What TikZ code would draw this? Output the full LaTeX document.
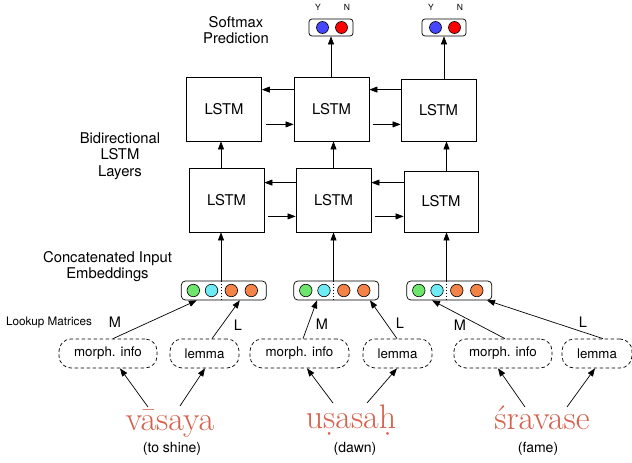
\documentclass[tikz,border=0pt]{standalone}
\usepackage{fontspec}
\setsansfont{TeX Gyre Heros}
\usetikzlibrary{arrows.meta,calc}
\definecolor{wordred}{RGB}{214,96,76}
\definecolor{cgreen}{RGB}{110,230,110}
\definecolor{ccyan}{RGB}{110,235,245}
\definecolor{corange}{RGB}{245,130,70}
\definecolor{cblue}{RGB}{70,70,255}
\definecolor{cred}{RGB}{255,0,0}
\begin{document}
\begin{tikzpicture}[x=1pt,y=-1pt,font=\sffamily,
  lstm/.style={draw,line width=0.8pt,minimum width=75pt,minimum height=64pt,inner sep=0pt,font=\sffamily\fontsize{14.8}{16}\selectfont},
  arr/.style={-{Triangle[length=8pt,width=6pt]},line width=0.7pt},
  emb/.style={draw,rounded corners=4pt,line width=0.7pt,minimum width=85pt,minimum height=19pt,inner sep=0pt},
  dotc/.style={circle,draw,line width=0.6pt,minimum size=12.5pt,inner sep=0pt},
  lookup/.style={draw,dash pattern=on 3.5pt off 2.5pt,rounded corners=12pt,line width=0.7pt,minimum height=29pt,inner sep=0pt,font=\sffamily\fontsize{13.3}{15}\selectfont},
  lbl/.style={font=\sffamily\fontsize{14.8}{16.5}\selectfont,align=center,inner sep=0pt},
  word/.style={font=\rmfamily\fontsize{34}{34}\selectfont,text=wordred,inner sep=0pt,anchor=base},
  gloss/.style={font=\sffamily\fontsize{14}{16}\selectfont,inner sep=0pt},
  ml/.style={font=\sffamily\fontsize{14.5}{16}\selectfont,inner sep=0pt},
  yn/.style={font=\sffamily\fontsize{8.5}{10}\selectfont,inner sep=0pt},
  soft/.style={draw,rounded corners=3pt,line width=0.7pt,minimum width=44pt,minimum height=17pt,inner sep=0pt}
]
\useasboundingbox (0,0) rectangle (632,463);

% column coordinates
\coordinate (c1) at (221,0);
\coordinate (c2) at (333.5,0);
\coordinate (c3) at (446.5,0);

% LSTM layers
\node[lstm] (t1) at (224,109) {LSTM};
\node[lstm] (t2) at (331.5,109) {LSTM};
\node[lstm,minimum height=62pt] (t3) at (438.5,110) {LSTM};
\node[lstm] (b1) at (226.5,200) {LSTM};
\node[lstm] (b2) at (333.5,200) {LSTM};
\node[lstm,minimum width=74pt,minimum height=61pt] (b3) at (441,201.5) {LSTM};

% horizontal recurrent arrows
\draw[arr] ($(t2.north west)+(0,13)$) -- ($(t1.north east)+(0,13)$);
\draw[arr] ($(t1.south east)+(4,-17)$) -- ($(t2.south west)+(0,-17)$);
\draw[arr] ($(t3.west |- t2.north)+(0,13)$) -- ($(t2.north east)+(0,13)$);
\draw[arr] ($(t2.south east)+(4,-17)$) -- ($(t3.west |- t2.south)+(0,-17)$);
\draw[arr] ($(b2.north west)+(0,15)$) -- ($(b1.north east)+(0,15)$);
\draw[arr] ($(b1.south east)+(4,-16)$) -- ($(b2.south west)+(0,-16)$);
\draw[arr] ($(b3.west |- b2.north)+(0,15)$) -- ($(b2.north east)+(0,15)$);
\draw[arr] ($(b2.south east)+(4,-16)$) -- ($(b3.west |- b2.south)+(0,-16)$);

% vertical arrows between layers
\foreach \i in {1,2,3} {
  \draw[arr] (b\i.north -| c\i) -- (t\i.south -| c\i);
}

% embeddings
\foreach \i/\cx in {1/223.8,2/336.3,3/449.3} {
  \node[emb] (e\i) at (\cx,290.5) {};
  \node[dotc,fill=cgreen] (e\i-a) at ({\cx-30.5},290.5) {};
  \node[dotc,fill=ccyan] (e\i-b) at ({\cx-12.3},290.5) {};
  \node[dotc,fill=corange] (e\i-c) at ({\cx+7.5},290.5) {};
  \node[dotc,fill=corange] (e\i-d) at ({\cx+27.5},290.5) {};
  \draw[line width=0.6pt,dash pattern=on 1.5pt off 1.5pt] (e\i.north -| c\i) -- (e\i.south -| c\i);
  \draw[arr] (e\i.north -| c\i) -- (b\i.south -| c\i);
}

% softmax
\node[lbl] (smx) at (236,30) {Softmax\\Prediction};
\foreach \i/\cx in {2/331,3/444} {
  \node[soft] (s\i) at (\cx,27.5) {};
  \node[dotc,fill=cblue,minimum size=12pt] (s\i-y) at ({\cx-8.5},27.5) {};
  \node[dotc,fill=cred,minimum size=12pt] (s\i-n) at ({\cx+10.5},27.5) {};
  \node[yn] (y\i) at ({\cx-13},7) {Y};
  \node[yn] (n\i) at ({\cx+16},7) {N};
  \draw[arr] (t\i.north -| s\i) -- (s\i.south);
}

% side labels
\node[lbl] (bil) at (120,156) {Bidirectional\\LSTM\\Layers};
\node[lbl] (cie) at (107.5,266.5) {Concatenated Input\\Embeddings};
\node[font=\sffamily\fontsize{11.7}{13}\selectfont,inner sep=0pt] (lkm) at (49,323) {Lookup Matrices};

% lookup boxes
\node[lookup,minimum width=98pt] (m1) at (108,353.5) {morph. info};
\node[lookup,minimum width=69pt] (l1) at (204.5,353.5) {lemma};
\node[lookup,minimum width=99pt] (m2) at (299.5,353.5) {morph. info};
\node[lookup,minimum width=69pt] (l2) at (397.5,353.5) {lemma};
\node[lookup,minimum width=98pt] (m3) at (503,353.5) {morph. info};
\node[lookup,minimum width=70pt] (l3) at (597,353.5) {lemma};

% lookup -> embedding arrows
\draw[arr] ($(m1.north)+(5,0)$) -- ($(e1.south)+(-27,0)$);
\draw[arr] ($(l1.north)+(7.5,0)$) -- ($(e1.south)+(16,0)$);
\draw[arr] ($(m2.north)+(3.5,0)$) -- ($(e2.south)+(-19.3,0)$);
\draw[arr] ($(l2.north)+(-0.5,0)$) -- ($(e2.south)+(33.7,0)$);
\draw[arr] ($(m3.north)+(2,0)$) -- ($(e3.south)+(-17.3,0)$);
\draw[arr] ($(l3.north)+(6,0)$) -- ($(e3.south)+(37.7,0)$);

% M / L labels
\node[ml] (lm1) at (115,322) {M};
\node[ml] (ll1) at (238,325) {L};
\node[ml] (lm2) at (322,324) {M};
\node[ml] (ll2) at (400,323) {L};
\node[ml] (lm3) at (460,325) {M};
\node[ml] (ll3) at (583,322) {L};

% words
\node[word] (w1) at (170,430) {vāsaya};
\node[word] (w2) at (351,428) {uṣasaḥ};
\node[word] (w3) at (542,429) {śravase};
\node[gloss] (g1) at (172,448.5) {(to shine)};
\node[gloss] (g2) at (355,448.5) {(dawn)};
\node[gloss] (g3) at (538,448.5) {(fame)};

% word -> lookup arrows
\draw[arr] ($(w1.base)+(-22,-23)$) -- ($(m1.south)+(12,0)$);
\draw[arr] ($(w1.base)+(10,-24)$) -- ($(l1.south)+(0.5,0)$);
\draw[arr] ($(w2.base)+(-18,-25)$) -- ($(m2.south)+(7.5,0)$);
\draw[arr] ($(w2.base)+(16,-25)$) -- ($(l2.south)+(-0.5,0)$);
\draw[arr] ($(w3.base)+(-17,-22)$) -- ($(m3.south)+(-5,0)$);
\draw[arr] ($(w3.base)+(25,-22)$) -- ($(l3.south)+(-2,0)$);
\end{tikzpicture}
\end{document}
